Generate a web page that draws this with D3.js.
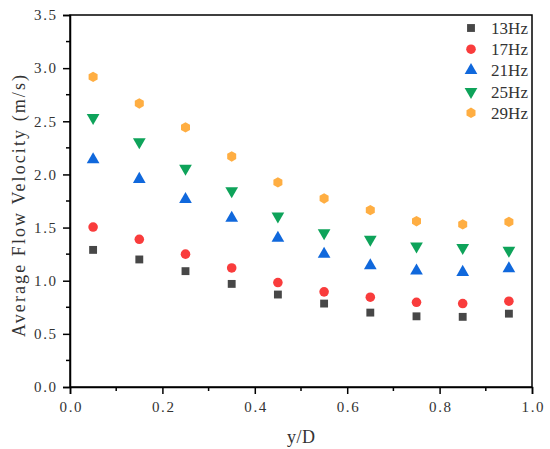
<!DOCTYPE html>
<html><head><meta charset="utf-8">
<script src="https://cdn.jsdelivr.net/npm/d3@7"></script>
<style>body{margin:0;background:#fff}svg{display:block}</style>
</head><body>
<svg id="c" width="550" height="449"></svg>
<script>
const xVals = [0.05, 0.15, 0.25, 0.35, 0.45, 0.55, 0.65, 0.75, 0.85, 0.95];
const s13 = [1.29, 1.20, 1.09, 0.97, 0.87, 0.785, 0.70, 0.665, 0.66, 0.69];
const s17 = [1.505, 1.39, 1.25, 1.12, 0.983, 0.895, 0.845, 0.797, 0.785, 0.807];
const s21 = [2.14, 1.955, 1.765, 1.59, 1.40, 1.25, 1.143, 1.092, 1.08, 1.115];
const s25 = [2.533, 2.305, 2.056, 1.846, 1.607, 1.45, 1.388, 1.325, 1.31, 1.284];
const s29 = [2.918, 2.668, 2.443, 2.169, 1.925, 1.774, 1.664, 1.56, 1.53, 1.554];
const seriesNames = ["13Hz", "17Hz", "21Hz", "25Hz", "29Hz"];
const xTicks = [0, 0.2, 0.4, 0.6, 0.8, 1.0];
const yTicks = [0, 0.5, 1.0, 1.5, 2.0, 2.5, 3.0, 3.5];

const series = [s13, s17, s21, s25, s29];
const colors = ["#474747", "#f93c3c", "#1068dc", "#0ea35a", "#ffae42"];
const shapes = [d3.symbolSquare, d3.symbolCircle, d3.symbolTriangle, "down", "hex"];
const sizes = [62, 72, 70, 70, 70];

const svg = d3.select("#c");
const L = 70, R = 532, T = 15, B = 387;
const x = d3.scaleLinear().domain([0, 1]).range([L, R]);
const y = d3.scaleLinear().domain([0, 3.5]).range([B, T]);
const font = "'Liberation Serif', 'DejaVu Serif', serif";

function symPath(i) {
  const sh = shapes[i];
  if (sh === "down") {
    return d3.symbol().type(d3.symbolTriangle).size(sizes[i])();
  }
  if (sh === "hex") {
    const r = 5.2; let p = "";
    for (let k = 0; k < 6; k++) {
      const a = Math.PI / 6 + k * Math.PI / 3;
      p += (k ? "L" : "M") + (r * Math.cos(a)).toFixed(2) + "," + (r * Math.sin(a)).toFixed(2);
    }
    return p + "Z";
  }
  return d3.symbol().type(sh).size(sizes[i])();
}

// frame
svg.append("rect").attr("x", L).attr("y", T).attr("width", R - L).attr("height", B - T)
  .attr("fill", "none").attr("stroke", "#000").attr("stroke-width", 1.5);

// x axis
const xAxis = d3.axisBottom(x).tickValues(xTicks).tickSize(7).tickPadding(7)
  .tickFormat(d3.format(".1f"));
const gx = svg.append("g").attr("transform", `translate(0,${B})`).call(xAxis);
const xMinor = d3.range(0.1, 1, 0.2);
gx.selectAll(".minor").data(xMinor).enter().append("line").attr("class", "minor")
  .attr("x1", d => x(d)).attr("x2", d => x(d)).attr("y1", 0).attr("y2", 4)
  .attr("stroke", "#000").attr("stroke-width", 1.5);

// y axis
const yAxis = d3.axisLeft(y).tickValues(yTicks).tickSize(7).tickPadding(7)
  .tickFormat(d3.format(".1f"));
const gy = svg.append("g").attr("transform", `translate(${L},0)`).call(yAxis);
const yMinor = d3.range(0.25, 3.5, 0.5);
gy.selectAll(".minor").data(yMinor).enter().append("line").attr("class", "minor")
  .attr("y1", d => y(d)).attr("y2", d => y(d)).attr("x1", 0).attr("x2", -4)
  .attr("stroke", "#000").attr("stroke-width", 1.5);

[gx, gy].forEach(g => {
  g.select(".domain").attr("stroke-width", 1.5);
  g.selectAll(".tick line").attr("stroke-width", 1.5);
  g.selectAll(".tick text").attr("font-family", font).attr("font-size", 15).attr("fill", "#333")
    .attr("textLength", 22).attr("lengthAdjust", "spacing");
});

// titles
svg.append("text").attr("x", (L + R) / 2).attr("y", 443).attr("text-anchor", "middle")
  .attr("font-family", font).attr("font-size", 18).attr("fill", "#333")
  .attr("textLength", 28).attr("lengthAdjust", "spacing").text("y/D");
svg.append("text").attr("transform", `translate(25,206) rotate(-90)`).attr("text-anchor", "middle")
  .attr("font-family", font).attr("font-size", 18).attr("fill", "#333")
  .attr("textLength", 262).attr("lengthAdjust", "spacing")
  .text("Average Flow Velocity (m/s)");

// points
series.forEach((vals, i) => {
  const p = symPath(i);
  svg.append("g").selectAll("path").data(vals).enter().append("path")
    .attr("d", p)
    .attr("transform", (d, j) => `translate(${x(xVals[j])},${y(d)})` + (shapes[i] === "down" ? " rotate(180)" : ""))
    .attr("fill", colors[i]);
});

// legend
seriesNames.forEach((n, i) => {
  const cy = 28 + i * 21.2;
  svg.append("path").attr("d", symPath(i))
    .attr("transform", `translate(471,${cy})` + (shapes[i] === "down" ? " rotate(180)" : ""))
    .attr("fill", colors[i]);
  svg.append("text").attr("x", 491).attr("y", cy + 6).attr("font-family", font)
    .attr("font-size", 17).attr("fill", "#333")
    .attr("textLength", 37).attr("lengthAdjust", "spacing").text(n);
});
</script>
</body></html>
